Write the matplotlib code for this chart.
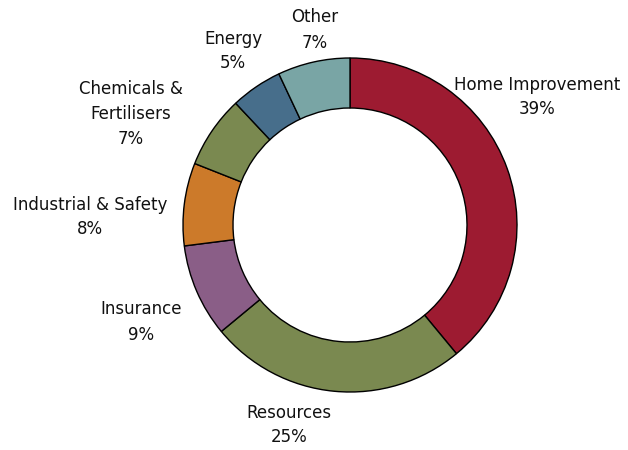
import matplotlib
matplotlib.use("Agg")
import matplotlib.pyplot as plt

# Revenue mix by segment
segments = ["Home Improvement", "Resources", "Insurance", "Industrial & Safety",
            "Chemicals &\nFertilisers", "Energy", "Other"]
shares = [39, 25, 9, 8, 7, 5, 7]
colors = ["#9D1B31", "#7A8950", "#8A5E87", "#CC7A2A", "#7A8950", "#476E8B", "#79A5A5"]

# label centres, in pixel offsets from the ring centre
label_xy = [(187, 128), (-61, -200), (-209, -97), (-260, 8),
            (-219, 111), (-117, 174), (-35, 195)]

W, H = 628, 450
cx, cy = 350, 225
R_out, R_in = 167, 117

fig = plt.figure(figsize=(W / 100, H / 100), dpi=100)
ax = fig.add_axes([0, 0, 1, 1])

ax.pie(shares, colors=colors, radius=R_out, startangle=90, counterclock=False,
       wedgeprops=dict(width=R_out - R_in, edgecolor="black", linewidth=1.0))
ax.set_xlim(-cx, W - cx)
ax.set_ylim(-(H - cy), cy)
ax.set_aspect("equal")
ax.axis("off")

for name, val, (x, y) in zip(segments, shares, label_xy):
    ax.text(x, y, f"{name}\n{val}%", ha="center", va="center", fontsize=12,
            color="#111111", linespacing=1.5, family="DejaVu Sans")

fig.savefig("out.png", dpi=100)
